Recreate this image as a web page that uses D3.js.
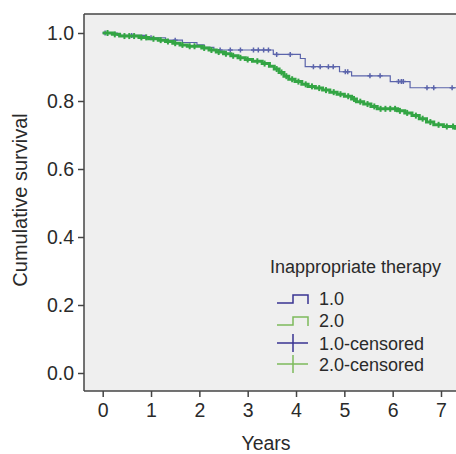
<!DOCTYPE html>
<html>
<head>
<meta charset="utf-8">
<script src="https://cdn.jsdelivr.net/npm/d3@7"></script>
<style>
  body { margin: 0; background: #fff; }
  svg { display: block; font-family: "Liberation Sans", Arial, sans-serif; }
</style>
</head>
<body>
<div id="chart-container"></div>
<script>
// survival steps: [years, cumulative survival]
const blueSteps = [[0, 1.0], [0.3, 0.993], [0.9, 0.986], [1.3, 0.979], [1.65, 0.972], [1.95, 0.965],
  [2.1, 0.958], [2.3, 0.950], [3.53, 0.937], [4.09, 0.925], [4.19, 0.901], [4.9, 0.886],
  [5.15, 0.874], [5.95, 0.857], [6.36, 0.839], [7.6, 0.839]];

const greenSteps = [[0, 1.0], [0.2, 0.996], [0.35, 0.991], [0.75, 0.987], [0.95, 0.983], [1.15, 0.979],
  [1.3, 0.975], [1.45, 0.970], [1.6, 0.965], [1.75, 0.961], [2.05, 0.956], [2.2, 0.950], [2.35, 0.944],
  [2.5, 0.939], [2.65, 0.933], [2.8, 0.927], [2.95, 0.922], [3.1, 0.917], [3.3, 0.910], [3.45, 0.902],
  [3.55, 0.894], [3.65, 0.884], [3.75, 0.873], [3.85, 0.864], [3.98, 0.857], [4.12, 0.849], [4.25, 0.843],
  [4.4, 0.838], [4.55, 0.832], [4.7, 0.826], [4.85, 0.820], [5.0, 0.814], [5.15, 0.806], [5.25, 0.798],
  [5.4, 0.791], [5.55, 0.784], [5.68, 0.777], [6.1, 0.771], [6.25, 0.765], [6.4, 0.757], [6.55, 0.748],
  [6.7, 0.738], [6.85, 0.730], [7.05, 0.725], [7.3, 0.720], [7.6, 0.715]];

const blueCensored = [0.05, 0.6, 1.0, 1.5, 2.43, 2.64, 2.85, 3.12, 3.22, 3.33, 3.43, 3.60, 3.88,
  4.36, 4.50, 4.67, 4.77, 5.02, 5.07, 5.53, 5.74, 6.12, 6.18, 6.22, 6.71, 6.85, 7.23];

const greenCensored = [0.1, 0.25, 0.45, 0.55, 0.65, 0.8, 0.9, 1.05, 1.2, 1.35, 1.5, 1.65, 1.8, 1.9,
  2.1, 2.25, 2.4, 2.55, 2.7, 2.85, 3.0, 3.2, 3.35, 3.6, 3.7, 3.8, 3.92, 4.05, 4.2, 4.33, 4.48, 4.62,
  4.78, 4.92, 5.08, 5.2, 5.33, 5.48, 5.62, 5.75, 5.85, 5.95, 6.05, 6.15, 6.3, 6.48, 6.62, 6.78, 6.95,
  7.12, 7.25];

const xTicks = [0, 1, 2, 3, 4, 5, 6, 7];
const yTicks = [0, 0.2, 0.4, 0.6, 0.8, 1.0];
const legendLabels = ["1.0", "2.0", "1.0-censored", "2.0-censored"];

const width = 456, height = 454;
const plot = {left: 84, top: 14, bottom: 391, right: 470};

const lineBlue = "#5b64ab", lineGreen = "#33a544";
const legBlue = "#3a3592", legGreen = "#7dbb5c";
const textColor = "#2a2a2a", axisColor = "#444";

const svg = d3.select("#chart-container")
  .append("svg")
  .attr("width", width)
  .attr("height", height);

const x = d3.scaleLinear().domain([0, 7]).range([102.7, 441]);
const y = d3.scaleLinear().domain([0, 1]).range([373, 33]);

// plot background
svg.append("rect")
  .attr("x", plot.left)
  .attr("y", plot.top)
  .attr("width", plot.right - plot.left)
  .attr("height", plot.bottom - plot.top)
  .attr("fill", "#efefef");

// top border
svg.append("line")
  .attr("x1", plot.left).attr("x2", plot.right)
  .attr("y1", plot.top).attr("y2", plot.top)
  .attr("stroke", axisColor).attr("stroke-width", 1.5);

const yAxis = svg.append("g")
  .attr("transform", `translate(${plot.left},0)`)
  .call(d3.axisLeft(y).tickValues(yTicks).tickFormat(d3.format(".1f")).tickSize(6).tickSizeOuter(0));
yAxis.select(".domain").attr("d", `M0,${plot.top}V${plot.bottom}`);

const xAxis = svg.append("g")
  .attr("transform", `translate(0,${plot.bottom})`)
  .call(d3.axisBottom(x).tickValues(xTicks).tickFormat(d3.format("d")).tickSize(6).tickSizeOuter(0));
xAxis.select(".domain").attr("d", `M${plot.left},0H${plot.right}`);

svg.selectAll(".domain, .tick line")
  .attr("stroke", axisColor).attr("stroke-width", 1.5);
svg.selectAll(".tick text")
  .attr("fill", textColor)
  .style("font-size", "19.5px")
  .style("font-family", "'Liberation Sans', Arial, sans-serif");
yAxis.selectAll(".tick text").attr("x", -10);
xAxis.selectAll(".tick text").attr("y", 12);

// axis titles
svg.append("text")
  .attr("transform", "rotate(-90)")
  .attr("x", -200)
  .attr("y", 27)
  .attr("text-anchor", "middle")
  .attr("fill", textColor)
  .style("font-size", "20px")
  .text("Cumulative survival");

svg.append("text")
  .attr("x", 266)
  .attr("y", 450)
  .attr("text-anchor", "middle")
  .attr("fill", textColor)
  .style("font-size", "19.5px")
  .text("Years");

// curves
const g = svg.append("g");
const stepLine = d3.line()
  .x(d => x(d[0]))
  .y(d => y(d[1]))
  .curve(d3.curveStepAfter);

function survAt(steps, t) {
  let v = steps[0][1];
  steps.forEach(s => { if (s[0] <= t) v = s[1]; });
  return v;
}

g.append("path")
  .datum(blueSteps)
  .attr("d", stepLine)
  .attr("fill", "none")
  .attr("stroke", lineBlue)
  .attr("stroke-width", 1.2);

g.selectAll(".cb")
  .data(blueCensored)
  .enter()
  .append("path")
  .attr("d", t => {
    const cx = x(t), cy = y(survAt(blueSteps, t));
    return `M${cx - 2.5},${cy}H${cx + 2.5}M${cx},${cy - 2.5}V${cy + 2.5}`;
  })
  .attr("stroke", lineBlue)
  .attr("stroke-width", 1.5);

g.append("path")
  .datum(greenSteps)
  .attr("d", stepLine)
  .attr("fill", "none")
  .attr("stroke", lineGreen)
  .attr("stroke-width", 3);

g.selectAll(".cg")
  .data(greenCensored)
  .enter()
  .append("path")
  .attr("d", t => {
    const cx = x(t), cy = y(survAt(greenSteps, t));
    return `M${cx},${cy - 3}V${cy + 3}`;
  })
  .attr("stroke", lineGreen)
  .attr("stroke-width", 2);

// legend
const leg = svg.append("g");
leg.append("text")
  .attr("x", 270)
  .attr("y", 273)
  .attr("fill", textColor)
  .style("font-size", "18px")
  .text("Inappropriate therapy");

const legY = [298, 320, 343, 364];
const legColors = [legBlue, legGreen, legBlue, legGreen];

legendLabels.forEach((lab, i) => {
  const cy = legY[i];
  if (i < 2) {
    leg.append("path")
      .attr("d", `M277,${cy + 5}H293V${cy - 3}H308V${cy + 6}`)
      .attr("fill", "none")
      .attr("stroke", legColors[i])
      .attr("stroke-width", 1.5);
  } else {
    leg.append("path")
      .attr("d", `M277,${cy}H308M293,${cy - 9}V${cy + 9}`)
      .attr("stroke", legColors[i])
      .attr("stroke-width", 1.5);
  }
  leg.append("text")
    .attr("x", 319)
    .attr("y", cy + 6.5)
    .attr("fill", textColor)
    .style("font-size", "18px")
    .text(lab);
});
</script>
</body>
</html>
